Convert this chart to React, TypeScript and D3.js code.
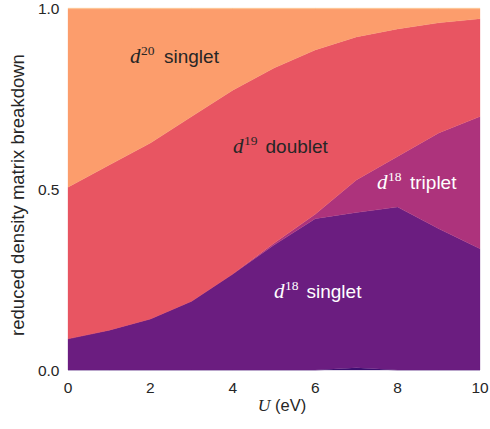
import React from "react";
import * as d3 from "d3";

const U = [0, 1, 2, 3, 4, 5, 6, 7, 8, 9, 10];
const d17 = [0, 0, 0, 0, 0, 0, 0, 0.006, 0, 0, 0];
const d18Singlet = [0.086, 0.11, 0.141, 0.19, 0.265, 0.345, 0.418, 0.429, 0.45, 0.39, 0.335];
const d18Triplet = [0, 0, 0, 0, 0, 0.005, 0.012, 0.09, 0.14, 0.265, 0.365];
const d19Doublet = [0.419, 0.456, 0.486, 0.51, 0.508, 0.484, 0.454, 0.395, 0.352, 0.304, 0.27];
const d20Singlet = [0.492, 0.431, 0.37, 0.297, 0.224, 0.163, 0.113, 0.077, 0.055, 0.038, 0.027];
const d21 = [0.003, 0.003, 0.003, 0.003, 0.003, 0.003, 0.003, 0.003, 0.003, 0.003, 0.003];

const xTicks = [0, 2, 4, 6, 8, 10];
const yTicks = [0.0, 0.5, 1.0];

const keys = ["d17", "d18s", "d18t", "d19", "d20", "d21"];
const colors: Record<string, string> = {
  d17: "#3b0f70",
  d18s: "#6b1d80",
  d18t: "#ad337c",
  d19: "#e85562",
  d20: "#fc9d6c",
  d21: "#fdc597",
};

export default function App() {
  const W = 490, H = 429;
  const m = { l: 68, r: 10, t: 8, b: 59 };
  const x = d3.scaleLinear().domain([0, 10]).range([m.l, W - m.r]);
  const y = d3.scaleLinear().domain([0, 1]).range([H - m.b, m.t]);

  const rows = U.map((u, i) => ({
    u,
    d17: d17[i],
    d18s: d18Singlet[i],
    d18t: d18Triplet[i],
    d19: d19Doublet[i],
    d20: d20Singlet[i],
    d21: d21[i],
  }));
  const series = d3.stack<any>().keys(keys)(rows);
  const area = d3
    .area<any>()
    .x((d) => x(d.data.u))
    .y0((d) => y(d[0]))
    .y1((d) => y(d[1]));

  const font = "'Liberation Sans', Arial, sans-serif";
  const mathFont = "'Liberation Serif', 'DejaVu Serif', serif";

  const label = (xd: number, xw: number, yp: number, sup: string, word: string, fill: string) => (
    <g fill={fill}>
      <text x={xd} y={yp} fontFamily={mathFont} fontStyle="italic" fontSize={21}>d</text>
      <text x={xd + 11} y={yp - 8.5} fontFamily={mathFont} fontSize={13.5}>{sup}</text>
      <text x={xw} y={yp} fontFamily={font} fontSize={19}>{word}</text>
    </g>
  );

  return (
    <svg width={W} height={H} style={{ position: "absolute", left: 0, top: 0 }}>
      <rect width={W} height={H} fill="#fff" />
      {series.map((s) => (
        <path key={s.key} d={area(s) || ""} fill={colors[s.key]} stroke={colors[s.key]} strokeWidth={0.3} />
      ))}
      {xTicks.map((t) => (
        <text key={t} x={x(t)} y={393} textAnchor="middle" fontFamily={font} fontSize={15.5} fill="#262626">
          {t}
        </text>
      ))}
      {yTicks.map((t) => (
        <text key={t} x={59.5} y={y(t) + 5.5} textAnchor="end" fontFamily={font} fontSize={15.5} fill="#262626">
          {t.toFixed(1)}
        </text>
      ))}
      <text x={x(5) + 8} y={411} textAnchor="middle" fontFamily={font} fontSize={16.5} fill="#262626">
        <tspan fontFamily={mathFont} fontStyle="italic" fontSize={17.5}>U</tspan>
        <tspan> (eV)</tspan>
      </text>
      <text
        transform={`translate(24,195) rotate(-90)`}
        textAnchor="middle"
        fontFamily={font}
        fontSize={18.5}
        fill="#262626"
      >
        reduced density matrix breakdown
      </text>
      {label(130, 164, 63, "20", "singlet", "#262626")}
      {label(233, 265.5, 153, "19", "doublet", "#262626")}
      {label(377, 410, 189, "18", "triplet", "#ffffff")}
      {label(274, 306.5, 298, "18", "singlet", "#ffffff")}
    </svg>
  );
}
